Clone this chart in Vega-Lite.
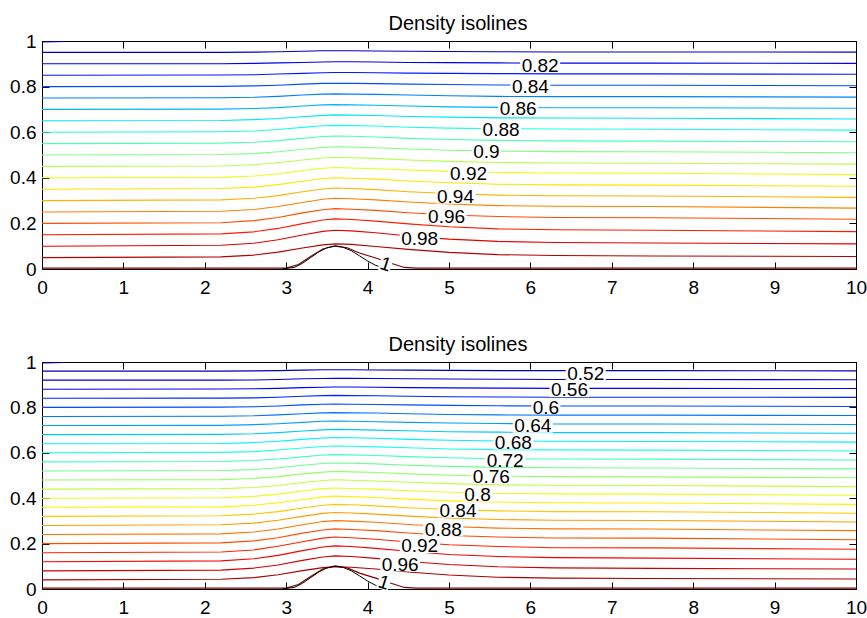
{
"$schema":"https://vega.github.io/schema/vega-lite/v6.json",
"padding":{"left":5,"top":13,"right":5,"bottom":5},
"background":"white",
"config":{
 "font":"Liberation Sans",
 "view":{"stroke":"black","strokeWidth":1},
 "axis":{"grid":false,"domainColor":"black","tickColor":"black","labelColor":"black","labelFont":"Liberation Sans","labelFontSize":19,"tickSize":-7,"title":null,"zindex":1,"labelOverlap":false,"labelFlush":false,"format":"~r"},
 "title":{"fontSize":20,"fontWeight":"normal","color":"black","font":"Liberation Sans","frame":"group","offset":-2,"dx":9}
},
"datasets":{
"bump":[{"x":2.95,"y":0},{"x":3.1,"y":0.007},{"x":3.2,"y":0.025},{"x":3.3,"y":0.05},{"x":3.4,"y":0.075},{"x":3.5,"y":0.093},{"x":3.6,"y":0.1},{"x":3.7,"y":0.095},{"x":3.8,"y":0.08},{"x":3.9,"y":0.058},{"x":4.0,"y":0.035},{"x":4.1,"y":0.016},{"x":4.2,"y":0.004},{"x":4.25,"y":0}],
"topLab":[{"t":"0.82","x":6.12,"y":0.89},{"t":"0.84","x":6.0,"y":0.798},{"t":"0.86","x":5.85,"y":0.7},{"t":"0.88","x":5.64,"y":0.608},{"t":"0.9","x":5.46,"y":0.511},{"t":"0.92","x":5.24,"y":0.418},{"t":"0.94","x":5.08,"y":0.316},{"t":"0.96","x":4.97,"y":0.228},{"t":"0.98","x":4.64,"y":0.133}],
"topOne":[{"t":"1","x":4.22,"y":0.02}],
"botLab":[{"t":"0.52","x":6.68,"y":0.946},{"t":"0.56","x":6.48,"y":0.875},{"t":"0.6","x":6.19,"y":0.799},{"t":"0.64","x":6.03,"y":0.717},{"t":"0.68","x":5.79,"y":0.644},{"t":"0.72","x":5.69,"y":0.566},{"t":"0.76","x":5.52,"y":0.494},{"t":"0.8","x":5.35,"y":0.414},{"t":"0.84","x":5.11,"y":0.344},{"t":"0.88","x":4.93,"y":0.262},{"t":"0.92","x":4.64,"y":0.188},{"t":"0.96","x":4.4,"y":0.107}],
"botOne":[{"t":"1","x":4.2,"y":0.028}],
"top":[
{"v":0.8,"x":0,"y":0.996},{"v":0.8,"x":0.27,"y":0.998},
{"v":1.0,"x":0,"y":0.004},{"v":1.0,"x":3.0,"y":0.004},{"v":1.0,"x":3.15,"y":0.02},{"v":1.0,"x":3.3,"y":0.055},{"v":1.0,"x":3.45,"y":0.088},{"v":1.0,"x":3.6,"y":0.102},{"v":1.0,"x":3.75,"y":0.093},{"v":1.0,"x":3.9,"y":0.07},{"v":1.0,"x":4.1,"y":0.048},{"v":1.0,"x":4.25,"y":0.03},{"v":1.0,"x":4.45,"y":0.007},{"v":1.0,"x":4.6,"y":0.004},{"v":1.0,"x":10,"y":0.004},
{"v":0.99,"x":0,"y":0.05},{"v":0.99,"x":2.2,"y":0.053},{"v":0.99,"x":2.6,"y":0.061},{"v":0.99,"x":2.9,"y":0.074},{"v":0.99,"x":3.2,"y":0.092},{"v":0.99,"x":3.45,"y":0.106},{"v":0.99,"x":3.6,"y":0.11},{"v":0.99,"x":3.8,"y":0.108},{"v":0.99,"x":4.1,"y":0.099},{"v":0.99,"x":4.5,"y":0.086},{"v":0.99,"x":5,"y":0.073},{"v":0.99,"x":5.6,"y":0.063},{"v":0.99,"x":6.3,"y":0.059},{"v":0.99,"x":7.5,"y":0.057},{"v":0.99,"x":10,"y":0.055},
{"v":0.98,"x":0,"y":0.1},{"v":0.98,"x":2.2,"y":0.104},{"v":0.98,"x":2.6,"y":0.113},{"v":0.98,"x":2.9,"y":0.128},{"v":0.98,"x":3.2,"y":0.149},{"v":0.98,"x":3.45,"y":0.165},{"v":0.98,"x":3.6,"y":0.17},{"v":0.98,"x":3.8,"y":0.167},{"v":0.98,"x":4.1,"y":0.159},{"v":0.98,"x":4.5,"y":0.145},{"v":0.98,"x":5,"y":0.131},{"v":0.98,"x":5.6,"y":0.121},{"v":0.98,"x":6.3,"y":0.116},{"v":0.98,"x":7.5,"y":0.114},{"v":0.98,"x":10,"y":0.11},
{"v":0.97,"x":0,"y":0.15},{"v":0.97,"x":2.2,"y":0.154},{"v":0.97,"x":2.6,"y":0.163},{"v":0.97,"x":2.9,"y":0.178},{"v":0.97,"x":3.2,"y":0.199},{"v":0.97,"x":3.45,"y":0.215},{"v":0.97,"x":3.6,"y":0.22},{"v":0.97,"x":3.8,"y":0.217},{"v":0.97,"x":4.1,"y":0.21},{"v":0.97,"x":4.5,"y":0.198},{"v":0.97,"x":5,"y":0.185},{"v":0.97,"x":5.6,"y":0.176},{"v":0.97,"x":6.3,"y":0.172},{"v":0.97,"x":7.5,"y":0.17},{"v":0.97,"x":10,"y":0.164},
{"v":0.96,"x":0,"y":0.2},{"v":0.96,"x":2.2,"y":0.203},{"v":0.96,"x":2.6,"y":0.212},{"v":0.96,"x":2.9,"y":0.226},{"v":0.96,"x":3.2,"y":0.246},{"v":0.96,"x":3.45,"y":0.26},{"v":0.96,"x":3.6,"y":0.265},{"v":0.96,"x":3.8,"y":0.262},{"v":0.96,"x":4.1,"y":0.257},{"v":0.96,"x":4.5,"y":0.247},{"v":0.96,"x":5,"y":0.237},{"v":0.96,"x":5.6,"y":0.23},{"v":0.96,"x":6.3,"y":0.226},{"v":0.96,"x":7.5,"y":0.225},{"v":0.96,"x":10,"y":0.218},
{"v":0.95,"x":0,"y":0.25},{"v":0.95,"x":2.2,"y":0.253},{"v":0.95,"x":2.6,"y":0.261},{"v":0.95,"x":2.9,"y":0.274},{"v":0.95,"x":3.2,"y":0.292},{"v":0.95,"x":3.45,"y":0.306},{"v":0.95,"x":3.6,"y":0.31},{"v":0.95,"x":3.8,"y":0.308},{"v":0.95,"x":4.1,"y":0.303},{"v":0.95,"x":4.5,"y":0.294},{"v":0.95,"x":5,"y":0.285},{"v":0.95,"x":5.6,"y":0.278},{"v":0.95,"x":6.3,"y":0.275},{"v":0.95,"x":7.5,"y":0.274},{"v":0.95,"x":10,"y":0.267},
{"v":0.94,"x":0,"y":0.3},{"v":0.94,"x":2.2,"y":0.303},{"v":0.94,"x":2.6,"y":0.31},{"v":0.94,"x":2.9,"y":0.322},{"v":0.94,"x":3.2,"y":0.339},{"v":0.94,"x":3.45,"y":0.351},{"v":0.94,"x":3.6,"y":0.355},{"v":0.94,"x":3.8,"y":0.353},{"v":0.94,"x":4.1,"y":0.348},{"v":0.94,"x":4.5,"y":0.339},{"v":0.94,"x":5,"y":0.331},{"v":0.94,"x":5.6,"y":0.324},{"v":0.94,"x":6.3,"y":0.321},{"v":0.94,"x":7.5,"y":0.32},{"v":0.94,"x":10,"y":0.314},
{"v":0.93,"x":0,"y":0.35},{"v":0.93,"x":2.2,"y":0.353},{"v":0.93,"x":2.6,"y":0.359},{"v":0.93,"x":2.9,"y":0.37},{"v":0.93,"x":3.2,"y":0.385},{"v":0.93,"x":3.45,"y":0.397},{"v":0.93,"x":3.6,"y":0.4},{"v":0.93,"x":3.8,"y":0.398},{"v":0.93,"x":4.1,"y":0.394},{"v":0.93,"x":4.5,"y":0.386},{"v":0.93,"x":5,"y":0.378},{"v":0.93,"x":5.6,"y":0.372},{"v":0.93,"x":6.3,"y":0.369},{"v":0.93,"x":7.5,"y":0.368},{"v":0.93,"x":10,"y":0.363},
{"v":0.92,"x":0,"y":0.4},{"v":0.92,"x":2.2,"y":0.402},{"v":0.92,"x":2.6,"y":0.408},{"v":0.92,"x":2.9,"y":0.418},{"v":0.92,"x":3.2,"y":0.432},{"v":0.92,"x":3.45,"y":0.442},{"v":0.92,"x":3.6,"y":0.445},{"v":0.92,"x":3.8,"y":0.443},{"v":0.92,"x":4.1,"y":0.44},{"v":0.92,"x":4.5,"y":0.434},{"v":0.92,"x":5,"y":0.428},{"v":0.92,"x":5.6,"y":0.423},{"v":0.92,"x":6.3,"y":0.421},{"v":0.92,"x":7.5,"y":0.42},{"v":0.92,"x":10,"y":0.414},
{"v":0.91,"x":0,"y":0.45},{"v":0.91,"x":2.2,"y":0.452},{"v":0.91,"x":2.6,"y":0.457},{"v":0.91,"x":2.9,"y":0.466},{"v":0.91,"x":3.2,"y":0.478},{"v":0.91,"x":3.45,"y":0.487},{"v":0.91,"x":3.6,"y":0.49},{"v":0.91,"x":3.8,"y":0.488},{"v":0.91,"x":4.1,"y":0.485},{"v":0.91,"x":4.5,"y":0.478},{"v":0.91,"x":5,"y":0.472},{"v":0.91,"x":5.6,"y":0.467},{"v":0.91,"x":6.3,"y":0.465},{"v":0.91,"x":7.5,"y":0.464},{"v":0.91,"x":10,"y":0.46},
{"v":0.9,"x":0,"y":0.5},{"v":0.9,"x":2.2,"y":0.502},{"v":0.9,"x":2.6,"y":0.506},{"v":0.9,"x":2.9,"y":0.514},{"v":0.9,"x":3.2,"y":0.525},{"v":0.9,"x":3.45,"y":0.533},{"v":0.9,"x":3.6,"y":0.536},{"v":0.9,"x":3.8,"y":0.535},{"v":0.9,"x":4.1,"y":0.532},{"v":0.9,"x":4.5,"y":0.526},{"v":0.9,"x":5,"y":0.521},{"v":0.9,"x":5.6,"y":0.517},{"v":0.9,"x":6.3,"y":0.515},{"v":0.9,"x":7.5,"y":0.514},{"v":0.9,"x":10,"y":0.51},
{"v":0.89,"x":0,"y":0.55},{"v":0.89,"x":2.2,"y":0.552},{"v":0.89,"x":2.6,"y":0.556},{"v":0.89,"x":2.9,"y":0.563},{"v":0.89,"x":3.2,"y":0.573},{"v":0.89,"x":3.45,"y":0.581},{"v":0.89,"x":3.6,"y":0.583},{"v":0.89,"x":3.8,"y":0.582},{"v":0.89,"x":4.1,"y":0.579},{"v":0.89,"x":4.5,"y":0.573},{"v":0.89,"x":5,"y":0.568},{"v":0.89,"x":5.6,"y":0.564},{"v":0.89,"x":6.3,"y":0.562},{"v":0.89,"x":7.5,"y":0.561},{"v":0.89,"x":10,"y":0.558},
{"v":0.88,"x":0,"y":0.6},{"v":0.88,"x":2.2,"y":0.602},{"v":0.88,"x":2.6,"y":0.605},{"v":0.88,"x":2.9,"y":0.612},{"v":0.88,"x":3.2,"y":0.621},{"v":0.88,"x":3.45,"y":0.628},{"v":0.88,"x":3.6,"y":0.63},{"v":0.88,"x":3.8,"y":0.629},{"v":0.88,"x":4.1,"y":0.627},{"v":0.88,"x":4.5,"y":0.622},{"v":0.88,"x":5,"y":0.618},{"v":0.88,"x":5.6,"y":0.615},{"v":0.88,"x":6.3,"y":0.614},{"v":0.88,"x":7.5,"y":0.613},{"v":0.88,"x":10,"y":0.609},
{"v":0.87,"x":0,"y":0.65},{"v":0.87,"x":2.2,"y":0.651},{"v":0.87,"x":2.6,"y":0.655},{"v":0.87,"x":2.9,"y":0.66},{"v":0.87,"x":3.2,"y":0.668},{"v":0.87,"x":3.45,"y":0.674},{"v":0.87,"x":3.6,"y":0.676},{"v":0.87,"x":3.8,"y":0.675},{"v":0.87,"x":4.1,"y":0.673},{"v":0.87,"x":4.5,"y":0.669},{"v":0.87,"x":5,"y":0.666},{"v":0.87,"x":5.6,"y":0.663},{"v":0.87,"x":6.3,"y":0.662},{"v":0.87,"x":7.5,"y":0.661},{"v":0.87,"x":10,"y":0.658},
{"v":0.86,"x":0,"y":0.7},{"v":0.86,"x":2.2,"y":0.701},{"v":0.86,"x":2.6,"y":0.704},{"v":0.86,"x":2.9,"y":0.708},{"v":0.86,"x":3.2,"y":0.715},{"v":0.86,"x":3.45,"y":0.72},{"v":0.86,"x":3.6,"y":0.721},{"v":0.86,"x":3.8,"y":0.72},{"v":0.86,"x":4.1,"y":0.718},{"v":0.86,"x":4.5,"y":0.715},{"v":0.86,"x":5,"y":0.711},{"v":0.86,"x":5.6,"y":0.709},{"v":0.86,"x":6.3,"y":0.707},{"v":0.86,"x":7.5,"y":0.707},{"v":0.86,"x":10,"y":0.705},
{"v":0.85,"x":0,"y":0.75},{"v":0.85,"x":2.2,"y":0.751},{"v":0.85,"x":2.6,"y":0.753},{"v":0.85,"x":2.9,"y":0.757},{"v":0.85,"x":3.2,"y":0.763},{"v":0.85,"x":3.45,"y":0.767},{"v":0.85,"x":3.6,"y":0.768},{"v":0.85,"x":3.8,"y":0.767},{"v":0.85,"x":4.1,"y":0.766},{"v":0.85,"x":4.5,"y":0.763},{"v":0.85,"x":5,"y":0.76},{"v":0.85,"x":5.6,"y":0.757},{"v":0.85,"x":6.3,"y":0.756},{"v":0.85,"x":7.5,"y":0.756},{"v":0.85,"x":10,"y":0.754},
{"v":0.84,"x":0,"y":0.8},{"v":0.84,"x":2.2,"y":0.801},{"v":0.84,"x":2.6,"y":0.803},{"v":0.84,"x":2.9,"y":0.806},{"v":0.84,"x":3.2,"y":0.811},{"v":0.84,"x":3.45,"y":0.814},{"v":0.84,"x":3.6,"y":0.815},{"v":0.84,"x":3.8,"y":0.814},{"v":0.84,"x":4.1,"y":0.813},{"v":0.84,"x":4.5,"y":0.811},{"v":0.84,"x":5,"y":0.809},{"v":0.84,"x":5.6,"y":0.807},{"v":0.84,"x":6.3,"y":0.806},{"v":0.84,"x":7.5,"y":0.806},{"v":0.84,"x":10,"y":0.804},
{"v":0.83,"x":0,"y":0.85},{"v":0.83,"x":2.2,"y":0.851},{"v":0.83,"x":2.6,"y":0.852},{"v":0.83,"x":2.9,"y":0.855},{"v":0.83,"x":3.2,"y":0.858},{"v":0.83,"x":3.45,"y":0.861},{"v":0.83,"x":3.6,"y":0.862},{"v":0.83,"x":3.8,"y":0.862},{"v":0.83,"x":4.1,"y":0.861},{"v":0.83,"x":4.5,"y":0.859},{"v":0.83,"x":5,"y":0.858},{"v":0.83,"x":5.6,"y":0.857},{"v":0.83,"x":6.3,"y":0.856},{"v":0.83,"x":7.5,"y":0.856},{"v":0.83,"x":10,"y":0.854},
{"v":0.82,"x":0,"y":0.9},{"v":0.82,"x":2.2,"y":0.9},{"v":0.82,"x":2.6,"y":0.902},{"v":0.82,"x":2.9,"y":0.904},{"v":0.82,"x":3.2,"y":0.906},{"v":0.82,"x":3.45,"y":0.908},{"v":0.82,"x":3.6,"y":0.909},{"v":0.82,"x":3.8,"y":0.909},{"v":0.82,"x":4.1,"y":0.908},{"v":0.82,"x":4.5,"y":0.906},{"v":0.82,"x":5,"y":0.905},{"v":0.82,"x":5.6,"y":0.904},{"v":0.82,"x":6.3,"y":0.903},{"v":0.82,"x":7.5,"y":0.903},{"v":0.82,"x":10,"y":0.902},
{"v":0.81,"x":0,"y":0.95},{"v":0.81,"x":2.2,"y":0.95},{"v":0.81,"x":2.6,"y":0.951},{"v":0.81,"x":2.9,"y":0.953},{"v":0.81,"x":3.2,"y":0.955},{"v":0.81,"x":3.45,"y":0.957},{"v":0.81,"x":3.6,"y":0.957},{"v":0.81,"x":3.8,"y":0.957},{"v":0.81,"x":4.1,"y":0.956},{"v":0.81,"x":4.5,"y":0.955},{"v":0.81,"x":5,"y":0.954},{"v":0.81,"x":5.6,"y":0.953},{"v":0.81,"x":6.3,"y":0.952},{"v":0.81,"x":7.5,"y":0.952},{"v":0.81,"x":10,"y":0.951}
],
"bot":[
{"v":0.5,"x":0,"y":0.996},{"v":0.5,"x":0.27,"y":0.998},
{"v":1.0,"x":0,"y":0.004},{"v":1.0,"x":3.0,"y":0.004},{"v":1.0,"x":3.15,"y":0.02},{"v":1.0,"x":3.3,"y":0.055},{"v":1.0,"x":3.45,"y":0.088},{"v":1.0,"x":3.6,"y":0.102},{"v":1.0,"x":3.75,"y":0.093},{"v":1.0,"x":3.9,"y":0.07},{"v":1.0,"x":4.1,"y":0.048},{"v":1.0,"x":4.25,"y":0.03},{"v":1.0,"x":4.45,"y":0.007},{"v":1.0,"x":4.6,"y":0.004},{"v":1.0,"x":10,"y":0.004},
{"v":0.98,"x":0,"y":0.04},{"v":0.98,"x":2.2,"y":0.043},{"v":0.98,"x":2.6,"y":0.05},{"v":0.98,"x":2.9,"y":0.063},{"v":0.98,"x":3.2,"y":0.081},{"v":0.98,"x":3.45,"y":0.094},{"v":0.98,"x":3.6,"y":0.098},{"v":0.98,"x":3.8,"y":0.096},{"v":0.98,"x":4.1,"y":0.088},{"v":0.98,"x":4.5,"y":0.075},{"v":0.98,"x":5,"y":0.062},{"v":0.98,"x":5.6,"y":0.052},{"v":0.98,"x":6.3,"y":0.048},{"v":0.98,"x":7.5,"y":0.046},{"v":0.98,"x":10,"y":0.044},
{"v":0.96,"x":0,"y":0.08},{"v":0.96,"x":2.2,"y":0.083},{"v":0.96,"x":2.6,"y":0.092},{"v":0.96,"x":2.9,"y":0.106},{"v":0.96,"x":3.2,"y":0.126},{"v":0.96,"x":3.45,"y":0.141},{"v":0.96,"x":3.6,"y":0.146},{"v":0.96,"x":3.8,"y":0.143},{"v":0.96,"x":4.1,"y":0.135},{"v":0.96,"x":4.5,"y":0.121},{"v":0.96,"x":5,"y":0.108},{"v":0.96,"x":5.6,"y":0.098},{"v":0.96,"x":6.3,"y":0.093},{"v":0.96,"x":7.5,"y":0.091},{"v":0.96,"x":10,"y":0.088},
{"v":0.94,"x":0,"y":0.12},{"v":0.94,"x":2.2,"y":0.124},{"v":0.94,"x":2.6,"y":0.133},{"v":0.94,"x":2.9,"y":0.148},{"v":0.94,"x":3.2,"y":0.169},{"v":0.94,"x":3.45,"y":0.185},{"v":0.94,"x":3.6,"y":0.19},{"v":0.94,"x":3.8,"y":0.187},{"v":0.94,"x":4.1,"y":0.179},{"v":0.94,"x":4.5,"y":0.166},{"v":0.94,"x":5,"y":0.152},{"v":0.94,"x":5.6,"y":0.143},{"v":0.94,"x":6.3,"y":0.138},{"v":0.94,"x":7.5,"y":0.136},{"v":0.94,"x":10,"y":0.131},
{"v":0.92,"x":0,"y":0.16},{"v":0.92,"x":2.2,"y":0.163},{"v":0.92,"x":2.6,"y":0.172},{"v":0.92,"x":2.9,"y":0.188},{"v":0.92,"x":3.2,"y":0.208},{"v":0.92,"x":3.45,"y":0.224},{"v":0.92,"x":3.6,"y":0.229},{"v":0.92,"x":3.8,"y":0.226},{"v":0.92,"x":4.1,"y":0.219},{"v":0.92,"x":4.5,"y":0.207},{"v":0.92,"x":5,"y":0.195},{"v":0.92,"x":5.6,"y":0.187},{"v":0.92,"x":6.3,"y":0.182},{"v":0.92,"x":7.5,"y":0.181},{"v":0.92,"x":10,"y":0.175},
{"v":0.9,"x":0,"y":0.2},{"v":0.9,"x":2.2,"y":0.203},{"v":0.9,"x":2.6,"y":0.212},{"v":0.9,"x":2.9,"y":0.226},{"v":0.9,"x":3.2,"y":0.246},{"v":0.9,"x":3.45,"y":0.26},{"v":0.9,"x":3.6,"y":0.265},{"v":0.9,"x":3.8,"y":0.262},{"v":0.9,"x":4.1,"y":0.257},{"v":0.9,"x":4.5,"y":0.247},{"v":0.9,"x":5,"y":0.236},{"v":0.9,"x":5.6,"y":0.229},{"v":0.9,"x":6.3,"y":0.225},{"v":0.9,"x":7.5,"y":0.224},{"v":0.9,"x":10,"y":0.217},
{"v":0.88,"x":0,"y":0.24},{"v":0.88,"x":2.2,"y":0.243},{"v":0.88,"x":2.6,"y":0.251},{"v":0.88,"x":2.9,"y":0.264},{"v":0.88,"x":3.2,"y":0.283},{"v":0.88,"x":3.45,"y":0.297},{"v":0.88,"x":3.6,"y":0.301},{"v":0.88,"x":3.8,"y":0.299},{"v":0.88,"x":4.1,"y":0.294},{"v":0.88,"x":4.5,"y":0.284},{"v":0.88,"x":5,"y":0.275},{"v":0.88,"x":5.6,"y":0.268},{"v":0.88,"x":6.3,"y":0.265},{"v":0.88,"x":7.5,"y":0.264},{"v":0.88,"x":10,"y":0.257},
{"v":0.86,"x":0,"y":0.28},{"v":0.86,"x":2.2,"y":0.283},{"v":0.86,"x":2.6,"y":0.29},{"v":0.86,"x":2.9,"y":0.303},{"v":0.86,"x":3.2,"y":0.32},{"v":0.86,"x":3.45,"y":0.333},{"v":0.86,"x":3.6,"y":0.337},{"v":0.86,"x":3.8,"y":0.335},{"v":0.86,"x":4.1,"y":0.33},{"v":0.86,"x":4.5,"y":0.321},{"v":0.86,"x":5,"y":0.313},{"v":0.86,"x":5.6,"y":0.306},{"v":0.86,"x":6.3,"y":0.303},{"v":0.86,"x":7.5,"y":0.302},{"v":0.86,"x":10,"y":0.295},
{"v":0.84,"x":0,"y":0.32},{"v":0.84,"x":2.2,"y":0.323},{"v":0.84,"x":2.6,"y":0.33},{"v":0.84,"x":2.9,"y":0.341},{"v":0.84,"x":3.2,"y":0.357},{"v":0.84,"x":3.45,"y":0.369},{"v":0.84,"x":3.6,"y":0.373},{"v":0.84,"x":3.8,"y":0.371},{"v":0.84,"x":4.1,"y":0.366},{"v":0.84,"x":4.5,"y":0.358},{"v":0.84,"x":5,"y":0.35},{"v":0.84,"x":5.6,"y":0.344},{"v":0.84,"x":6.3,"y":0.341},{"v":0.84,"x":7.5,"y":0.34},{"v":0.84,"x":10,"y":0.334},
{"v":0.82,"x":0,"y":0.36},{"v":0.82,"x":2.2,"y":0.362},{"v":0.82,"x":2.6,"y":0.369},{"v":0.82,"x":2.9,"y":0.38},{"v":0.82,"x":3.2,"y":0.394},{"v":0.82,"x":3.45,"y":0.406},{"v":0.82,"x":3.6,"y":0.409},{"v":0.82,"x":3.8,"y":0.407},{"v":0.82,"x":4.1,"y":0.403},{"v":0.82,"x":4.5,"y":0.396},{"v":0.82,"x":5,"y":0.388},{"v":0.82,"x":5.6,"y":0.383},{"v":0.82,"x":6.3,"y":0.38},{"v":0.82,"x":7.5,"y":0.379},{"v":0.82,"x":10,"y":0.373},
{"v":0.8,"x":0,"y":0.4},{"v":0.8,"x":2.2,"y":0.402},{"v":0.8,"x":2.6,"y":0.408},{"v":0.8,"x":2.9,"y":0.418},{"v":0.8,"x":3.2,"y":0.432},{"v":0.8,"x":3.45,"y":0.442},{"v":0.8,"x":3.6,"y":0.445},{"v":0.8,"x":3.8,"y":0.443},{"v":0.8,"x":4.1,"y":0.44},{"v":0.8,"x":4.5,"y":0.433},{"v":0.8,"x":5,"y":0.426},{"v":0.8,"x":5.6,"y":0.421},{"v":0.8,"x":6.3,"y":0.419},{"v":0.8,"x":7.5,"y":0.418},{"v":0.8,"x":10,"y":0.413},
{"v":0.78,"x":0,"y":0.44},{"v":0.78,"x":2.2,"y":0.442},{"v":0.78,"x":2.6,"y":0.447},{"v":0.78,"x":2.9,"y":0.456},{"v":0.78,"x":3.2,"y":0.469},{"v":0.78,"x":3.45,"y":0.478},{"v":0.78,"x":3.6,"y":0.481},{"v":0.78,"x":3.8,"y":0.479},{"v":0.78,"x":4.1,"y":0.476},{"v":0.78,"x":4.5,"y":0.47},{"v":0.78,"x":5,"y":0.464},{"v":0.78,"x":5.6,"y":0.459},{"v":0.78,"x":6.3,"y":0.457},{"v":0.78,"x":7.5,"y":0.456},{"v":0.78,"x":10,"y":0.451},
{"v":0.76,"x":0,"y":0.48},{"v":0.76,"x":2.2,"y":0.482},{"v":0.76,"x":2.6,"y":0.487},{"v":0.76,"x":2.9,"y":0.495},{"v":0.76,"x":3.2,"y":0.507},{"v":0.76,"x":3.45,"y":0.515},{"v":0.76,"x":3.6,"y":0.518},{"v":0.76,"x":3.8,"y":0.516},{"v":0.76,"x":4.1,"y":0.513},{"v":0.76,"x":4.5,"y":0.507},{"v":0.76,"x":5,"y":0.501},{"v":0.76,"x":5.6,"y":0.497},{"v":0.76,"x":6.3,"y":0.495},{"v":0.76,"x":7.5,"y":0.494},{"v":0.76,"x":10,"y":0.49},
{"v":0.74,"x":0,"y":0.52},{"v":0.74,"x":2.2,"y":0.522},{"v":0.74,"x":2.6,"y":0.526},{"v":0.74,"x":2.9,"y":0.534},{"v":0.74,"x":3.2,"y":0.545},{"v":0.74,"x":3.45,"y":0.553},{"v":0.74,"x":3.6,"y":0.555},{"v":0.74,"x":3.8,"y":0.554},{"v":0.74,"x":4.1,"y":0.551},{"v":0.74,"x":4.5,"y":0.545},{"v":0.74,"x":5,"y":0.54},{"v":0.74,"x":5.6,"y":0.536},{"v":0.74,"x":6.3,"y":0.534},{"v":0.74,"x":7.5,"y":0.533},{"v":0.74,"x":10,"y":0.529},
{"v":0.72,"x":0,"y":0.56},{"v":0.72,"x":2.2,"y":0.562},{"v":0.72,"x":2.6,"y":0.566},{"v":0.72,"x":2.9,"y":0.573},{"v":0.72,"x":3.2,"y":0.582},{"v":0.72,"x":3.45,"y":0.59},{"v":0.72,"x":3.6,"y":0.592},{"v":0.72,"x":3.8,"y":0.591},{"v":0.72,"x":4.1,"y":0.588},{"v":0.72,"x":4.5,"y":0.583},{"v":0.72,"x":5,"y":0.578},{"v":0.72,"x":5.6,"y":0.574},{"v":0.72,"x":6.3,"y":0.573},{"v":0.72,"x":7.5,"y":0.572},{"v":0.72,"x":10,"y":0.568},
{"v":0.7,"x":0,"y":0.6},{"v":0.7,"x":2.2,"y":0.602},{"v":0.7,"x":2.6,"y":0.605},{"v":0.7,"x":2.9,"y":0.612},{"v":0.7,"x":3.2,"y":0.621},{"v":0.7,"x":3.45,"y":0.628},{"v":0.7,"x":3.6,"y":0.63},{"v":0.7,"x":3.8,"y":0.629},{"v":0.7,"x":4.1,"y":0.626},{"v":0.7,"x":4.5,"y":0.622},{"v":0.7,"x":5,"y":0.617},{"v":0.7,"x":5.6,"y":0.614},{"v":0.7,"x":6.3,"y":0.613},{"v":0.7,"x":7.5,"y":0.612},{"v":0.7,"x":10,"y":0.608},
{"v":0.68,"x":0,"y":0.64},{"v":0.68,"x":2.2,"y":0.641},{"v":0.68,"x":2.6,"y":0.645},{"v":0.68,"x":2.9,"y":0.651},{"v":0.68,"x":3.2,"y":0.659},{"v":0.68,"x":3.45,"y":0.665},{"v":0.68,"x":3.6,"y":0.667},{"v":0.68,"x":3.8,"y":0.666},{"v":0.68,"x":4.1,"y":0.664},{"v":0.68,"x":4.5,"y":0.659},{"v":0.68,"x":5,"y":0.655},{"v":0.68,"x":5.6,"y":0.652},{"v":0.68,"x":6.3,"y":0.651},{"v":0.68,"x":7.5,"y":0.65},{"v":0.68,"x":10,"y":0.647},
{"v":0.66,"x":0,"y":0.68},{"v":0.66,"x":2.2,"y":0.681},{"v":0.66,"x":2.6,"y":0.684},{"v":0.66,"x":2.9,"y":0.689},{"v":0.66,"x":3.2,"y":0.696},{"v":0.66,"x":3.45,"y":0.701},{"v":0.66,"x":3.6,"y":0.703},{"v":0.66,"x":3.8,"y":0.702},{"v":0.66,"x":4.1,"y":0.7},{"v":0.66,"x":4.5,"y":0.697},{"v":0.66,"x":5,"y":0.693},{"v":0.66,"x":5.6,"y":0.691},{"v":0.66,"x":6.3,"y":0.689},{"v":0.66,"x":7.5,"y":0.689},{"v":0.66,"x":10,"y":0.686},
{"v":0.64,"x":0,"y":0.72},{"v":0.64,"x":2.2,"y":0.721},{"v":0.64,"x":2.6,"y":0.724},{"v":0.64,"x":2.9,"y":0.728},{"v":0.64,"x":3.2,"y":0.734},{"v":0.64,"x":3.45,"y":0.739},{"v":0.64,"x":3.6,"y":0.74},{"v":0.64,"x":3.8,"y":0.739},{"v":0.64,"x":4.1,"y":0.737},{"v":0.64,"x":4.5,"y":0.734},{"v":0.64,"x":5,"y":0.731},{"v":0.64,"x":5.6,"y":0.729},{"v":0.64,"x":6.3,"y":0.727},{"v":0.64,"x":7.5,"y":0.727},{"v":0.64,"x":10,"y":0.725},
{"v":0.62,"x":0,"y":0.76},{"v":0.62,"x":2.2,"y":0.761},{"v":0.62,"x":2.6,"y":0.763},{"v":0.62,"x":2.9,"y":0.767},{"v":0.62,"x":3.2,"y":0.772},{"v":0.62,"x":3.45,"y":0.776},{"v":0.62,"x":3.6,"y":0.777},{"v":0.62,"x":3.8,"y":0.776},{"v":0.62,"x":4.1,"y":0.775},{"v":0.62,"x":4.5,"y":0.772},{"v":0.62,"x":5,"y":0.769},{"v":0.62,"x":5.6,"y":0.767},{"v":0.62,"x":6.3,"y":0.766},{"v":0.62,"x":7.5,"y":0.766},{"v":0.62,"x":10,"y":0.764},
{"v":0.6,"x":0,"y":0.8},{"v":0.6,"x":2.2,"y":0.801},{"v":0.6,"x":2.6,"y":0.803},{"v":0.6,"x":2.9,"y":0.806},{"v":0.6,"x":3.2,"y":0.811},{"v":0.6,"x":3.45,"y":0.814},{"v":0.6,"x":3.6,"y":0.815},{"v":0.6,"x":3.8,"y":0.814},{"v":0.6,"x":4.1,"y":0.813},{"v":0.6,"x":4.5,"y":0.811},{"v":0.6,"x":5,"y":0.809},{"v":0.6,"x":5.6,"y":0.807},{"v":0.6,"x":6.3,"y":0.806},{"v":0.6,"x":7.5,"y":0.806},{"v":0.6,"x":10,"y":0.804},
{"v":0.58,"x":0,"y":0.84},{"v":0.58,"x":2.2,"y":0.841},{"v":0.58,"x":2.6,"y":0.842},{"v":0.58,"x":2.9,"y":0.845},{"v":0.58,"x":3.2,"y":0.849},{"v":0.58,"x":3.45,"y":0.852},{"v":0.58,"x":3.6,"y":0.853},{"v":0.58,"x":3.8,"y":0.852},{"v":0.58,"x":4.1,"y":0.851},{"v":0.58,"x":4.5,"y":0.849},{"v":0.58,"x":5,"y":0.847},{"v":0.58,"x":5.6,"y":0.846},{"v":0.58,"x":6.3,"y":0.845},{"v":0.58,"x":7.5,"y":0.845},{"v":0.58,"x":10,"y":0.844},
{"v":0.56,"x":0,"y":0.88},{"v":0.56,"x":2.2,"y":0.881},{"v":0.56,"x":2.6,"y":0.882},{"v":0.56,"x":2.9,"y":0.884},{"v":0.56,"x":3.2,"y":0.887},{"v":0.56,"x":3.45,"y":0.889},{"v":0.56,"x":3.6,"y":0.89},{"v":0.56,"x":3.8,"y":0.89},{"v":0.56,"x":4.1,"y":0.889},{"v":0.56,"x":4.5,"y":0.887},{"v":0.56,"x":5,"y":0.886},{"v":0.56,"x":5.6,"y":0.885},{"v":0.56,"x":6.3,"y":0.884},{"v":0.56,"x":7.5,"y":0.884},{"v":0.56,"x":10,"y":0.883},
{"v":0.54,"x":0,"y":0.92},{"v":0.54,"x":2.2,"y":0.92},{"v":0.54,"x":2.6,"y":0.921},{"v":0.54,"x":2.9,"y":0.923},{"v":0.54,"x":3.2,"y":0.926},{"v":0.54,"x":3.45,"y":0.927},{"v":0.54,"x":3.6,"y":0.928},{"v":0.54,"x":3.8,"y":0.928},{"v":0.54,"x":4.1,"y":0.927},{"v":0.54,"x":4.5,"y":0.926},{"v":0.54,"x":5,"y":0.925},{"v":0.54,"x":5.6,"y":0.924},{"v":0.54,"x":6.3,"y":0.923},{"v":0.54,"x":7.5,"y":0.923},{"v":0.54,"x":10,"y":0.922},
{"v":0.52,"x":0,"y":0.96},{"v":0.52,"x":2.2,"y":0.96},{"v":0.52,"x":2.6,"y":0.961},{"v":0.52,"x":2.9,"y":0.962},{"v":0.52,"x":3.2,"y":0.964},{"v":0.52,"x":3.45,"y":0.966},{"v":0.52,"x":3.6,"y":0.966},{"v":0.52,"x":3.8,"y":0.966},{"v":0.52,"x":4.1,"y":0.965},{"v":0.52,"x":4.5,"y":0.964},{"v":0.52,"x":5,"y":0.963},{"v":0.52,"x":5.6,"y":0.962},{"v":0.52,"x":6.3,"y":0.962},{"v":0.52,"x":7.5,"y":0.962},{"v":0.52,"x":10,"y":0.961}
]
},
"resolve":{"scale":{"color":"independent"}},
"spacing":34,
"vconcat":[
{
 "width":814,"height":228,
 "title":{"text":"Density isolines"},
 "layer":[
  {"data":{"name":"top"},"mark":{"type":"line","strokeWidth":1.1},
   "encoding":{
    "x":{"field":"x","type":"quantitative","scale":{"domain":[0,10],"nice":false,"zero":false},"axis":{"values":[0,1,2,3,4,5,6,7,8,9,10],"labelPadding":16,"minExtent":30,"maxExtent":30}},
    "y":{"field":"y","type":"quantitative","scale":{"domain":[0,1],"nice":false},"axis":{"values":[0,0.2,0.4,0.6,0.8,1],"labelPadding":13,"minExtent":36,"maxExtent":36}},
    "color":{"field":"v","type":"quantitative","scale":{"domain":[0.8,0.825,0.875,0.925,0.975,1.0],"range":["#00008f","#0000ff","#00ffff","#ffff00","#ff0000","#800000"],"interpolate":"rgb"},"legend":null},
    "detail":{"field":"v","type":"nominal"}}},
  {"data":{"name":"bump"},"mark":{"type":"line","color":"black","strokeWidth":1},
   "encoding":{
    "x":{"field":"x","type":"quantitative","scale":{"domain":[0,10],"nice":false,"zero":false},"axis":{"orient":"top","labels":false,"values":[0,1,2,3,4,5,6,7,8,9,10],"minExtent":0,"maxExtent":0}},
    "y":{"field":"y","type":"quantitative","scale":{"domain":[0,1],"nice":false},"axis":{"orient":"right","labels":false,"values":[0,0.2,0.4,0.6,0.8,1],"minExtent":0,"maxExtent":0}}}},
  {"data":{"name":"topLab"},"transform":[{"filter":"length(datum.t) == 4"}],"mark":{"type":"point","shape":"M-1,-0.33L1,-0.33L1,0.33L-1,0.33Z","size":1600,"filled":true,"color":"white","opacity":1,"strokeWidth":0},
   "encoding":{"x":{"field":"x","type":"quantitative","axis":null},"y":{"field":"y","type":"quantitative","axis":null}}},
  {"data":{"name":"topLab"},"transform":[{"filter":"length(datum.t) == 3"}],"mark":{"type":"point","shape":"M-1,-0.45L1,-0.45L1,0.45L-1,0.45Z","size":841,"filled":true,"color":"white","opacity":1,"strokeWidth":0},
   "encoding":{"x":{"field":"x","type":"quantitative","axis":null},"y":{"field":"y","type":"quantitative","axis":null}}},
  {"data":{"name":"topOne"},"mark":{"type":"point","shape":"M-1,-1.2L1,-1.2L1,1.2L-1,1.2Z","size":144,"filled":true,"color":"white","opacity":1,"strokeWidth":0,"angle":18},
   "encoding":{"x":{"field":"x","type":"quantitative","axis":null},"y":{"field":"y","type":"quantitative","axis":null}}},
  {"data":{"name":"topLab"},"mark":{"type":"text","fontSize":19,"fill":"black","baseline":"middle","align":"center"},
   "encoding":{"x":{"field":"x","type":"quantitative","axis":null},"y":{"field":"y","type":"quantitative","axis":null},"text":{"field":"t"}}},
  {"data":{"name":"topOne"},"mark":{"type":"text","fontSize":19,"fill":"black","baseline":"middle","align":"center","angle":18},
   "encoding":{"x":{"field":"x","type":"quantitative","axis":null},"y":{"field":"y","type":"quantitative","axis":null},"text":{"field":"t"}}}
 ],
 "resolve":{"axis":{"x":"independent","y":"independent"}}
},
{
 "width":814,"height":227,
 "title":{"text":"Density isolines"},
 "layer":[
  {"data":{"name":"bot"},"mark":{"type":"line","strokeWidth":1.1},
   "encoding":{
    "x":{"field":"x","type":"quantitative","scale":{"domain":[0,10],"nice":false,"zero":false},"axis":{"values":[0,1,2,3,4,5,6,7,8,9,10],"labelPadding":16,"minExtent":30,"maxExtent":30}},
    "y":{"field":"y","type":"quantitative","scale":{"domain":[0,1],"nice":false},"axis":{"values":[0,0.2,0.4,0.6,0.8,1],"labelPadding":13,"minExtent":36,"maxExtent":36}},
    "color":{"field":"v","type":"quantitative","scale":{"domain":[0.5,0.5625,0.6875,0.8125,0.9375,1.0],"range":["#00008f","#0000ff","#00ffff","#ffff00","#ff0000","#800000"],"interpolate":"rgb"},"legend":null},
    "detail":{"field":"v","type":"nominal"}}},
  {"data":{"name":"bump"},"mark":{"type":"line","color":"black","strokeWidth":1},
   "encoding":{
    "x":{"field":"x","type":"quantitative","scale":{"domain":[0,10],"nice":false,"zero":false},"axis":{"orient":"top","labels":false,"values":[0,1,2,3,4,5,6,7,8,9,10],"minExtent":0,"maxExtent":0}},
    "y":{"field":"y","type":"quantitative","scale":{"domain":[0,1],"nice":false},"axis":{"orient":"right","labels":false,"values":[0,0.2,0.4,0.6,0.8,1],"minExtent":0,"maxExtent":0}}}},
  {"data":{"name":"botLab"},"transform":[{"filter":"length(datum.t) == 4"}],"mark":{"type":"point","shape":"M-1,-0.33L1,-0.33L1,0.33L-1,0.33Z","size":1600,"filled":true,"color":"white","opacity":1,"strokeWidth":0},
   "encoding":{"x":{"field":"x","type":"quantitative","axis":null},"y":{"field":"y","type":"quantitative","axis":null}}},
  {"data":{"name":"botLab"},"transform":[{"filter":"length(datum.t) == 3"}],"mark":{"type":"point","shape":"M-1,-0.45L1,-0.45L1,0.45L-1,0.45Z","size":841,"filled":true,"color":"white","opacity":1,"strokeWidth":0},
   "encoding":{"x":{"field":"x","type":"quantitative","axis":null},"y":{"field":"y","type":"quantitative","axis":null}}},
  {"data":{"name":"botOne"},"mark":{"type":"point","shape":"M-1,-1.2L1,-1.2L1,1.2L-1,1.2Z","size":144,"filled":true,"color":"white","opacity":1,"strokeWidth":0,"angle":18},
   "encoding":{"x":{"field":"x","type":"quantitative","axis":null},"y":{"field":"y","type":"quantitative","axis":null}}},
  {"data":{"name":"botLab"},"mark":{"type":"text","fontSize":19,"fill":"black","baseline":"middle","align":"center"},
   "encoding":{"x":{"field":"x","type":"quantitative","axis":null},"y":{"field":"y","type":"quantitative","axis":null},"text":{"field":"t"}}},
  {"data":{"name":"botOne"},"mark":{"type":"text","fontSize":19,"fill":"black","baseline":"middle","align":"center","angle":18},
   "encoding":{"x":{"field":"x","type":"quantitative","axis":null},"y":{"field":"y","type":"quantitative","axis":null},"text":{"field":"t"}}}
 ],
 "resolve":{"axis":{"x":"independent","y":"independent"}}
}
]
}
